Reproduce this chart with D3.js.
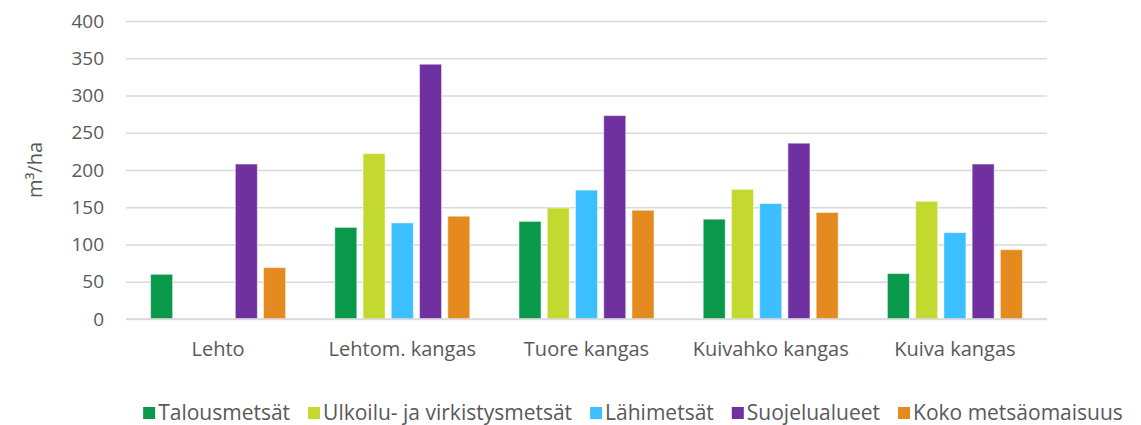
<!DOCTYPE html>
<html lang="fi">
<head>
  <meta charset="utf-8">
  <title>Puuston tilavuus</title>
  <script src="https://cdn.jsdelivr.net/npm/d3@7"></script>
  <style>
    body { margin: 0; background: #fff; }
    text { font-family: "Open Sans", "Liberation Sans", sans-serif; fill: #595959; }
  </style>
</head>
<body>
  <svg id="chart"></svg>
  <script>
    // data
    var categories = ["Lehto", "Lehtom. kangas", "Tuore kangas", "Kuivahko kangas", "Kuiva kangas"];
    var seriesNames = ["Talousmetsät", "Ulkoilu- ja virkistysmetsät", "Lähimetsät", "Suojelualueet", "Koko metsäomaisuus"];
    var talous = [60, 123, 131, 134, 61];
    var ulkoilu = [null, 222, 149, 174, 158];
    var lahi = [null, 129, 173, 155, 116];
    var suojelu = [208, 342, 273, 236, 208];
    var koko = [69, 138, 146, 143, 93];
    var yTicks = [0, 50, 100, 150, 200, 250, 300, 350, 400];

    var colors = ["#0a994a", "#c3d930", "#3bbfff", "#7030a0", "#e58a1f"];
    var series = [talous, ulkoilu, lahi, suojelu, koko];

    var w = 1141, h = 425;
    var m = { left: 126, right: 1047, top: 21, bottom: 319 };

    var svg = d3.select("#chart").attr("width", w).attr("height", h);

    var x = d3.scaleBand().domain(categories).range([m.left, m.right]);
    var xs = d3.scaleBand().domain(d3.range(seriesNames.length))
      .range([x.bandwidth() / 2 - 67.5, x.bandwidth() / 2 + 67.5]).paddingInner(0.22);
    var y = d3.scaleLinear().domain([0, 400]).range([m.bottom, m.top]);

    // gridlines + labels
    var yAxis = d3.axisLeft(y).tickValues(yTicks).tickSize(-(m.right - m.left)).tickPadding(22);
    var gy = svg.append("g").attr("transform", "translate(" + m.left + ",0)").call(yAxis);
    gy.select(".domain").remove();
    gy.selectAll("line").attr("stroke", "#d9d9d9").attr("stroke-width", 1.5);
    gy.selectAll("text").style("font-size", "19px").attr("fill", "#595959");

    // bars
    var rows = [];
    categories.forEach(function(c, i) {
      series.forEach(function(s, j) {
        if (s[i] != null) rows.push({ cat: c, k: j, v: s[i] });
      });
    });
    svg.append("g").selectAll("rect")
      .data(rows)
      .enter()
      .append("rect")
      .attr("x", function(d) { return x(d.cat) + xs(d.k); })
      .attr("y", function(d) { return y(d.v); })
      .attr("width", xs.bandwidth())
      .attr("height", function(d) { return y(0) - y(d.v); })
      .attr("fill", function(d) { return colors[d.k]; })
      .attr("stroke", "#ffffff")
      .attr("stroke-opacity", 0.5)
      .attr("stroke-width", 1);

    // x axis line over bars
    svg.append("line")
      .attr("x1", m.left).attr("x2", m.right)
      .attr("y1", y(0)).attr("y2", y(0))
      .attr("stroke", "#d9d9d9").attr("stroke-width", 1.5);

    var xAxis = d3.axisBottom(x).tickSize(0).tickPadding(23);
    var gx = svg.append("g").attr("transform", "translate(0," + m.bottom + ")").call(xAxis);
    gx.select(".domain").remove();
    gx.selectAll("text").style("font-size", "20px").attr("fill", "#595959");

    // axis title
    svg.append("text")
      .attr("transform", "translate(42,170) rotate(-90)")
      .attr("text-anchor", "middle")
      .style("font-size", "20px")
      .text("m³/ha");

    // legend
    var legend = svg.append("g");
    var items = legend.selectAll("g").data(seriesNames).enter().append("g");
    items.append("rect").attr("width", 12).attr("height", 12).attr("y", -13)
      .attr("fill", function(d, i) { return colors[i]; });
    items.append("text").attr("x", 15).style("font-size", "21px").text(function(d) { return d; });
    var pos = 0;
    items.each(function() {
      var g = d3.select(this);
      g.attr("transform", "translate(" + pos + ",0)");
      pos += 15 + g.select("text").node().getComputedTextLength() + 18;
    });
    pos -= 18;
    legend.attr("transform", "translate(" + (633 - pos / 2) + ",420)");
  </script>
</body>
</html>
